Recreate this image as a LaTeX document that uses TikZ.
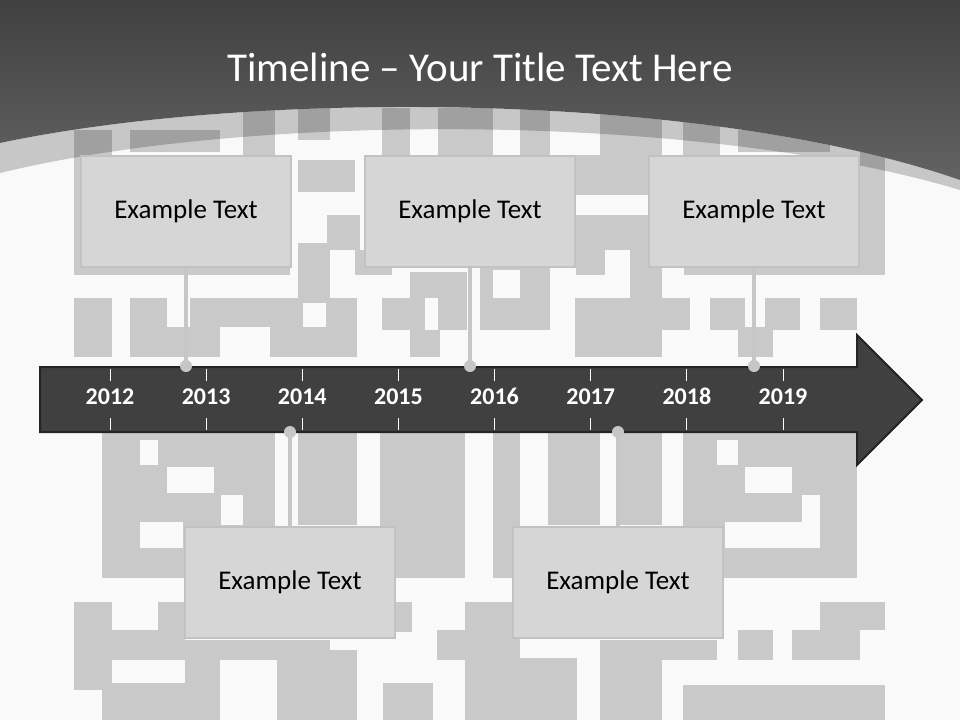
\documentclass[tikz,border=0pt]{standalone}
\usepackage{fontspec}
\setmainfont{Carlito}

\definecolor{pagebg}{HTML}{F9F9F9}
\definecolor{mazegray}{HTML}{C9C9C9}
\definecolor{boxfill}{HTML}{D6D6D6}
\definecolor{boxline}{HTML}{C2C2C2}
\definecolor{stemgray}{HTML}{C6C6C6}
\definecolor{arrowfill}{HTML}{404040}
\definecolor{arrowline}{HTML}{242424}
\definecolor{headtop}{HTML}{404040}
\definecolor{headbottom}{HTML}{636363}

\tikzset{
  exbox/.style={draw=boxline, line width=2pt, fill=boxfill, minimum width=210pt, minimum height=111pt, inner sep=0pt, font=\fontsize{27}{32}\selectfont},
  yearlbl/.style={text=white, anchor=base, inner sep=0pt, font=\bfseries\fontsize{24}{28}\selectfont},
  yeartick/.style={draw=white, line width=0.9pt},
  stem/.style={draw=stemgray, line width=4.5pt},
  knob/.style={circle, fill=stemgray, minimum size=12pt, inner sep=0pt},
}

\begin{document}
\begin{tikzpicture}[x=1pt,y=-1pt]
\useasboundingbox (0,0) rectangle (960,720);
\fill[pagebg] (0,0) rectangle (960,720);

% maze in the background
\foreach \xa/\ya/\xb/\yb in {74/130/112/160, 130/130/220/152, 243/108/275/160, 298/108/330/140,
  382/108/410/155, 438/108/493/160, 520/108/550/155, 600/112/662/192, 683/120/720/155,
  738/130/830/152, 860/150/885/175,
  74/155/290/275, 298/160/355/192, 327/215/360/250, 298/243/330/300, 355/250/392/275,
  480/268/550/330, 576/155/648/195, 576/215/605/275, 605/215/630/250, 630/215/662/298,
  575/298/662/357, 662/298/690/330, 684/160/885/275,
  213/298/300/327, 270/327/357/357, 298/298/357/327, 74/298/112/357, 130/298/167/357,
  167/327/220/357, 190/298/220/327, 382/298/425/330, 410/272/467/298, 438/298/467/330,
  410/330/440/357, 710/298/745/330, 738/327/773/357, 765/298/800/330, 820/298/857/330,
  102/432/275/578, 298/432/357/525, 380/432/465/578, 493/432/520/578, 548/432/600/525,
  620/432/662/525, 683/432/857/578,
  74/602/112/690, 112/630/185/660, 158/602/185/630, 74/640/330/660, 185/660/220/720,
  277/660/330/720, 102/683/185/720, 330/650/357/720, 396/602/412/632, 437/630/480/660,
  383/683/433/720, 465/602/480/720, 480/602/520/720, 520/658/577/720, 600/640/662/720,
  662/640/717/660, 738/630/773/660, 792/630/860/660, 820/602/885/630, 683/685/885/720}
  \fill[mazegray] (\xa,\ya) rectangle (\xb,\yb);
\foreach \xa/\ya/\xb/\yb in {493/270/520/298, 303/303/326/327, 140/440/158/465, 167/467/214/493,
  140/522/183/548, 221/495/243/525, 717/440/738/465, 745/467/792/493, 802/495/820/548,
  725/522/820/548}
  \fill[pagebg] (\xa,\ya) rectangle (\xb,\yb);

% header
\fill[black, opacity=0.2] (0,143) .. controls (250,90) and (700,90) .. (960,180)
  -- (960,190) .. controls (700,112) and (250,112) .. (0,173) -- cycle;
\shade[top color=headtop, bottom color=headbottom] (0,0) -- (960,0) -- (960,180)
  .. controls (700,90) and (250,90) .. (0,143) -- cycle;
\node[text=white, font=\fontsize{41}{46}\selectfont] (title) at (480,67) {Timeline -- Your Title Text Here};

% timeline arrow
\draw[draw=arrowline, fill=arrowfill, line width=2pt, line join=miter]
  (40,367) -- (857,367) -- (857,335) -- (922,400) -- (857,465) -- (857,432) -- (40,432) -- cycle;
\foreach \yr [count=\i from 0] in {2012,...,2019} {
  \pgfmathsetmacro{\xp}{110+96.14*\i}
  \draw[yeartick] (\xp,369) -- (\xp,381) (\xp,418) -- (\xp,430);
  \node[yearlbl] (y\yr) at (\xp,404) {\yr};
}

% boxes
\node[exbox] (box1) at (186,211.5) {Example Text};
\node[exbox] (box2) at (470,211.5) {Example Text};
\node[exbox] (box3) at (754,211.5) {Example Text};
\node[exbox] (box4) at (290,582.5) {Example Text};
\node[exbox] (box5) at (618,582.5) {Example Text};

\coordinate (k1) at (186,366);
\coordinate (k2) at (470,366);
\coordinate (k3) at (754,366);
\coordinate (k4) at (290,432);
\coordinate (k5) at (618,432);

\draw[stem] (box1.south) -- (k1);
\draw[stem] (box2.south) -- (k2);
\draw[stem] (box3.south) -- (k3);
\draw[stem] (box4.north) -- (k4);
\draw[stem] (box5.north) -- (k5);

\foreach \k in {k1,k2,k3,k4,k5}
  \node[knob] at (\k) {};
\end{tikzpicture}
\end{document}
